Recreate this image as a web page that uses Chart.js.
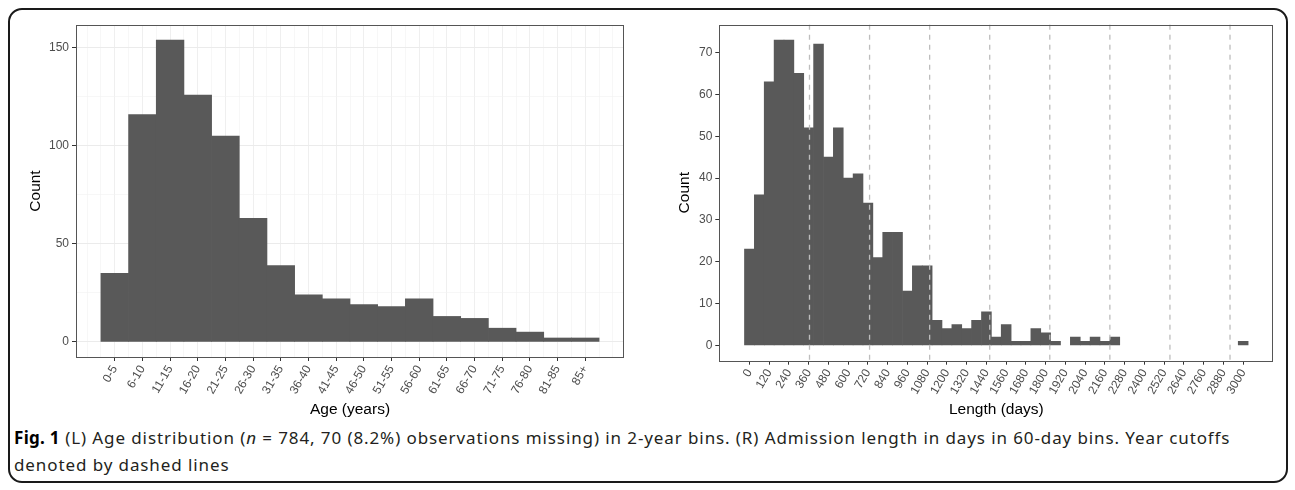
<!DOCTYPE html>
<html>
<head>
<meta charset="utf-8">
<script src="https://cdn.jsdelivr.net/npm/chart.js@4.4.1/dist/chart.umd.min.js"></script>
<style>
  body { margin: 0; background: #fff; width: 1295px; height: 490px; position: relative; overflow: hidden; }
  #frame { position: absolute; left: 8px; top: 8px; width: 1276px; height: 471px; border: 2px solid #1a1a1a; border-radius: 14px; }
  #ageChart { position: absolute; left: 0; top: 0; }
  #lengthChart { position: absolute; left: 650px; top: 0; }
  #caption { position: absolute; left: 14px; top: 424px; font-family: "Noto Sans"; font-size: 17px; letter-spacing: 0.9px; line-height: 27px; color: #231f20; white-space: nowrap; }
  #caption b { color: #000; letter-spacing: 0.3px; }
</style>
</head>
<body>
<div id="frame"></div>
<canvas id="ageChart" width="645" height="420"></canvas>
<canvas id="lengthChart" width="640" height="420"></canvas>
<div id="caption"><b>Fig. 1</b> (L) Age distribution (<i>n</i> = 784, 70 (8.2%) observations missing) in 2-year bins. (R) Admission length in days in 60-day bins. Year cutoffs<br>denoted by dashed lines</div>

<script>
// Age histogram (left)
const ageLabels = ['0-5', '6-10', '11-15', '16-20', '21-25', '26-30', '31-35', '36-40', '41-45',
  '46-50', '51-55', '56-60', '61-65', '66-70', '71-75', '76-80', '81-85', '85+'];
const ageCounts = [35, 116, 154, 126, 105, 63, 39, 24, 22, 19, 18, 22, 13, 12, 7, 5, 2, 2];
const ageYTicks = [0, 50, 100, 150];

// Admission length histogram (right), 60-day bins centred on these values
const lengthBins = [0, 60, 120, 180, 240, 300, 360, 420, 480, 540, 600, 660, 720, 780, 840, 900,
  960, 1020, 1080, 1140, 1200, 1260, 1320, 1380, 1440, 1500, 1560, 1620, 1680, 1740, 1800, 1860,
  1920, 1980, 2040, 2100, 2160, 2220, 2280, 2340, 2400, 2460, 2520, 2580, 2640, 2700, 2760, 2820,
  2880, 2940, 3000];
const lengthCounts = [23, 36, 63, 73, 73, 65, 52, 72, 45, 52, 40, 41, 34, 21, 27, 27,
  13, 19, 19, 6, 4, 5, 4, 6, 8, 2, 5, 1, 1, 4, 3, 1,
  0, 2, 1, 2, 1, 2, 0, 0, 0, 0, 0, 0, 0, 0, 0, 0,
  0, 0, 1];
const lengthTicks = [0, 120, 240, 360, 480, 600, 720, 840, 960, 1080, 1200, 1320, 1440, 1560, 1680,
  1800, 1920, 2040, 2160, 2280, 2400, 2520, 2640, 2760, 2880, 3000];
const lengthYTicks = [0, 10, 20, 30, 40, 50, 60, 70];
const yearCutoffs = [365, 730, 1095, 1460, 1825, 2190, 2555, 2920];

Chart.defaults.font.family = '"Liberation Sans", Arial, sans-serif';
Chart.defaults.animation = false;

const BAR = '#595959';
const GRID = '#ebebeb';
const TICK = '#333333';
const TEXT = '#4d4d4d';

// cadre du panneau (ggplot panel.border)
const panelBorder = {
  id: 'panelBorder',
  afterDraw(chart) {
    const { ctx, chartArea: a } = chart;
    ctx.save();
    ctx.strokeStyle = '#555';
    ctx.lineWidth = 1;
    ctx.strokeRect(Math.round(a.left) + 0.5, Math.round(a.top) + 0.5,
      Math.round(a.right - a.left) - 1, Math.round(a.bottom - a.top));
    ctx.restore();
  }
};

// lignes pointillées des années
const yearLines = {
  id: 'yearLines',
  afterDatasetsDraw(chart) {
    const { ctx, chartArea: a, scales } = chart;
    ctx.save();
    ctx.strokeStyle = '#bdbdbd';
    ctx.lineWidth = 1.3;
    ctx.setLineDash([5, 5]);
    yearCutoffs.forEach(v => {
      const x = scales.x.getPixelForValue(v);
      ctx.beginPath();
      ctx.moveTo(x, a.top);
      ctx.lineTo(x, a.bottom);
      ctx.stroke();
    });
    ctx.restore();
  }
};

function barDataset(xs, ys) {
  return {
    data: xs.map((x, i) => ({ x: x, y: ys[i] })),
    backgroundColor: BAR,
    borderWidth: 0,
    barPercentage: 1,
    categoryPercentage: 1,
    inflateAmount: c => (c.raw && c.raw.y > 0 ? 0.33 : 0)
  };
}

const tickFont = { size: 12 };
const titleFont = { size: 15.5 };

new Chart(document.getElementById('ageChart'), {
  type: 'bar',
  data: { datasets: [barDataset(ageLabels.map((l, i) => i + 1), ageCounts)] },
  options: {
    responsive: false,
    events: [],
    layout: { padding: { top: 25, right: 21, left: 0, bottom: 0 } },
    plugins: { legend: { display: false }, tooltip: { enabled: false } },
    scales: {
      x: {
        type: 'linear', min: -0.4, max: 19.4, offset: false,
        afterBuildTicks: s => { s.ticks = ageLabels.map((l, i) => ({ value: i + 1 })); },
        afterFit: s => { s.height = 63; },
        ticks: { callback: v => ageLabels[v - 1], minRotation: 60, maxRotation: 60, autoSkip: false,
          color: TEXT, font: tickFont, padding: 2 },
        grid: { color: GRID, lineWidth: 1, tickColor: TICK, tickLength: 4, offset: false },
        border: { display: false },
        title: { display: true, text: 'Age (years)', color: '#000', font: titleFont, padding: { top: 0, bottom: 1 } }
      },
      xMinor: {
        type: 'linear', position: 'bottom', min: -0.4, max: 19.4, offset: false,
        afterBuildTicks: s => {
          const t = [];
          for (let v = 0; v <= 19; v += 0.5) t.push({ value: v });
          s.ticks = t;
        },
        afterFit: s => { s.height = 0; },
        ticks: { display: false },
        grid: { color: '#f2f2f2', lineWidth: 0.6, drawTicks: false, offset: false },
        border: { display: false }
      },
      y: {
        type: 'linear', min: -7.7, max: 161.7,
        afterBuildTicks: s => {
          const t = [];
          for (let v = 0; v <= 150; v += 25) t.push({ value: v });
          s.ticks = t;
        },
        afterFit: s => { s.width = 76; },
        ticks: { callback: v => (ageYTicks.includes(v) ? v : ''), color: TEXT, font: tickFont, padding: 3 },
        grid: {
          color: c => (ageYTicks.includes(c.tick.value) ? GRID : '#f2f2f2'),
          lineWidth: c => (ageYTicks.includes(c.tick.value) ? 1 : 0.6),
          tickColor: c => (ageYTicks.includes(c.tick.value) ? TICK : 'rgba(0,0,0,0)'),
          tickLength: 4
        },
        border: { display: false },
        title: { display: true, text: 'Count', color: '#000', font: titleFont, padding: { top: 26.4, bottom: 0 } }
      }
    }
  },
  plugins: [panelBorder]
});

new Chart(document.getElementById('lengthChart'), {
  type: 'bar',
  data: { datasets: [barDataset(lengthBins, lengthCounts)] },
  options: {
    responsive: false,
    events: [],
    layout: { padding: { top: 24.7, right: 16.7, left: 0, bottom: 0 } },
    plugins: { legend: { display: false }, tooltip: { enabled: false } },
    scales: {
      x: {
        type: 'linear', min: -183, max: 3183, offset: false,
        afterBuildTicks: s => { s.ticks = lengthTicks.map(v => ({ value: v })); },
        afterFit: s => { s.height = 59.3; },
        ticks: { callback: v => String(v), minRotation: 60, maxRotation: 60, autoSkip: false,
          color: TEXT, font: tickFont, padding: 2 },
        grid: { drawOnChartArea: false, tickColor: TICK, tickLength: 4, offset: false },
        border: { display: false },
        title: { display: true, text: 'Length (days)', color: '#000', font: titleFont, padding: { top: 0, bottom: 0.5 } }
      },
      y: {
        type: 'linear', min: -3.65, max: 76.65,
        afterBuildTicks: s => { s.ticks = lengthYTicks.map(v => ({ value: v })); },
        afterFit: s => { s.width = 69.3; },
        ticks: { color: TEXT, font: tickFont, padding: 3 },
        grid: { drawOnChartArea: false, tickColor: TICK, tickLength: 4 },
        border: { display: false },
        title: { display: true, text: 'Count', color: '#000', font: titleFont, padding: { top: 25.9, bottom: 0 } }
      }
    }
  },
  plugins: [yearLines, panelBorder]
});
</script>
</body>
</html>
